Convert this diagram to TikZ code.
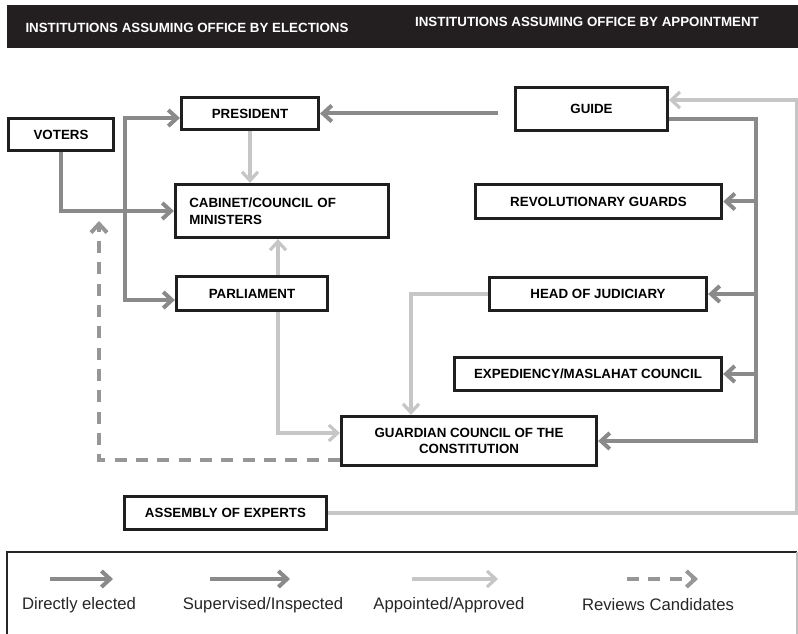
\documentclass[tikz,border=0pt]{standalone}
\usepackage{fontspec}
\setmainfont{Liberation Sans}
\usetikzlibrary{arrows.meta,positioning}

\definecolor{band}{RGB}{35,31,32}
\definecolor{darkarr}{RGB}{138,138,138}
\definecolor{lightarr}{RGB}{198,198,198}
\definecolor{dasharr}{RGB}{150,150,150}

\tikzset{
  inst/.style={draw=black!88, line width=2.2pt, fill=white, align=center,
    inner sep=2pt, font=\bfseries\fontsize{10}{12.5}\selectfont},
  hdr/.style={text=white, font=\bfseries\fontsize{10}{12}\selectfont, inner sep=0pt},
  legtxt/.style={text=black!85, font=\fontsize{12.5}{15}\selectfont, inner sep=0pt},
  barb/.style={-{Straight Barb[length=6.5pt,width=12pt]}},
  elect/.style={barb, draw=darkarr, line width=3pt},
  superv/.style={barb, draw=darkarr, line width=3pt},
  appoint/.style={barb, draw=lightarr, line width=2.4pt},
  review/.style={barb, draw=dasharr, line width=3pt, dash pattern=on 9pt off 7pt}
}

\begin{document}
\begin{tikzpicture}[x=0.75pt,y=-0.75pt,line join=miter]
\useasboundingbox (0,0) rectangle (798,634);
\fill[band] (7,5) rectangle (798,48);
\node[hdr] (hd_el) at (187,28) {INSTITUTIONS ASSUMING OFFICE BY ELECTIONS};
\node[hdr] (hd_ap) at (587,22) {INSTITUTIONS ASSUMING OFFICE BY APPOINTMENT};

\node[inst, minimum width=79pt, minimum height=24pt] (voters) at (61,134.5) {VOTERS};
\node[inst, minimum width=103pt, minimum height=24pt] (president) at (250,113.5) {PRESIDENT};
\node[inst, minimum width=160pt, minimum height=40pt, align=left, text width=139pt,
  inner xsep=10.5pt] (cabinet) at (282,211) {CABINET/COUNCIL OF\\MINISTERS};
\node[inst, minimum width=113.5pt, minimum height=25.5pt] (parliament) at (252,293.5) {PARLIAMENT};
\node[inst, minimum width=114pt, minimum height=32.5pt] (guide) at (591.5,109) {GUIDE};
\node[inst, minimum width=185pt, minimum height=25.5pt] (revguards) at (598.5,201.5) {REVOLUTIONARY GUARDS};
\node[inst, minimum width=163pt, minimum height=25pt] (judiciary) at (598,294) {HEAD OF JUDICIARY};
\node[inst, minimum width=200.5pt, minimum height=25pt] (expediency) at (588,374) {EXPEDIENCY/MASLAHAT COUNCIL};
\node[inst, minimum width=191.5pt, minimum height=37pt] (guardian) at (469,441) {GUARDIAN COUNCIL OF THE\\CONSTITUTION};
\node[inst, minimum width=151.5pt, minimum height=25pt] (assembly) at (225.5,513) {ASSEMBLY OF EXPERTS};

\coordinate (split) at (125,213);
\coordinate (cand) at (99,221);
\coordinate (g_out) at (498,113.5);
\coordinate (ne) at (797,100);
\coordinate (bus) at (756,119);
\coordinate (p_up) at ([xshift=19.5pt]parliament.north);
\coordinate (p_dn) at ([xshift=19.5pt]parliament.south);

\draw[review] ([yshift=-14.25pt]guardian.west) -| (cand);
\draw[elect] (voters.south) |- (cabinet.west);
\draw[elect] (split) |- ([yshift=-3.4pt]president.west);
\draw[elect] (split) |- ([yshift=-4.9pt]parliament.west);
\draw[appoint] (president.south) -- (president.south |- cabinet.north);
\draw[appoint] (p_up) -- (p_up |- cabinet.south);
\draw[appoint] (p_dn) |- ([yshift=6pt]guardian.west);
\draw[superv] (g_out) -- (president.east);
\draw[appoint] (assembly.east) -| (ne) -- ([yshift=6.75pt]guide.east);
\draw[superv] ([yshift=-7.5pt]guide.east) -- (bus) -- (bus |- guardian.east) -- (guardian.east);
\foreach \n in {revguards,judiciary,expediency}
  \draw[superv] (bus |- \n.east) -- (\n.east);
\draw[appoint] (judiciary.west) -| ([xshift=-43.5pt]guardian.north);

\draw[line width=2pt, draw=black!85] (7,634) |- (797,552);
\draw[line width=0.8pt, draw=black!25] (797,552) -- (797,634);
\foreach \nm/\sty/\txt/\cx/\ox/\len in {el/elect/{Directly elected}/79/-29/63,
    su/superv/{Supervised/Inspected}/263/-53/80,
    ap/appoint/{Appointed/Approved}/449/-37/86,
    rv/review/{Reviews Candidates}/658/-31/71}{
  \node[legtxt] (lg_\nm) at (\cx,605) {\txt};
  \draw[\sty] ([shift={(\ox,-26)}]lg_\nm.center) -- ++(\len,0);
}
\end{tikzpicture}
\end{document}
